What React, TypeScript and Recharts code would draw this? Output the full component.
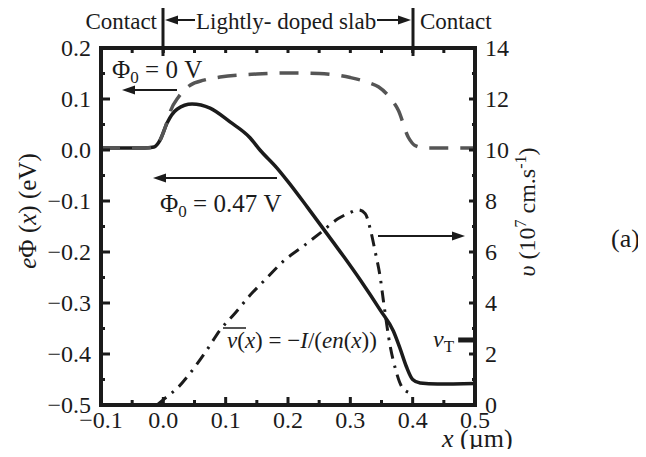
import { ComposedChart, Line, XAxis, YAxis, ReferenceLine } from "recharts";

const FONT = '"Liberation Serif", "Times New Roman", serif';
const INK = "#1b1b1b";

// e·Φ(x) in eV for Φ0 = 0.47 V (solid)
const biasX = [-0.1, -0.03, -0.015, -0.005, 0.006, 0.022, 0.046, 0.075, 0.107, 0.139, 0.155, 0.182, 0.2, 0.231, 0.26, 0.29, 0.316, 0.348, 0.369, 0.38, 0.39, 0.4, 0.412, 0.44, 0.5];
const biasPhi = [0.004, 0.004, 0.006, 0.02, 0.053, 0.08, 0.09, 0.082, 0.055, 0.024, 0.0, -0.035, -0.062, -0.112, -0.16, -0.21, -0.255, -0.314, -0.355, -0.39, -0.425, -0.45, -0.457, -0.459, -0.458];

// e·Φ(x) in eV for Φ0 = 0 V (grey dashes)
const eqX = [-0.1, -0.03, -0.015, -0.005, 0.006, 0.011, 0.025, 0.043, 0.065, 0.091, 0.15, 0.2, 0.25, 0.3, 0.33, 0.345, 0.362, 0.377, 0.393, 0.405, 0.42, 0.5];
const eqPhi = [0.004, 0.004, 0.006, 0.02, 0.055, 0.075, 0.105, 0.127, 0.137, 0.143, 0.149, 0.151, 0.15, 0.142, 0.132, 0.124, 0.105, 0.078, 0.025, 0.008, 0.004, 0.004];

// drift velocity v(x) = -I/(e n(x)), 10^7 cm/s (dash-dot)
const velX = [-0.01, 0.003, 0.024, 0.043, 0.07, 0.091, 0.115, 0.139, 0.166, 0.195, 0.223, 0.252, 0.28, 0.3, 0.313, 0.324, 0.332, 0.34, 0.348, 0.353, 0.364, 0.372, 0.383, 0.396];
const velV = [0.0, 0.27, 0.7, 1.25, 2.16, 2.94, 3.6, 4.3, 4.98, 5.69, 6.2, 6.75, 7.3, 7.55, 7.65, 7.5, 6.9, 6.0, 5.0, 4.1, 2.3, 1.45, 0.7, 0.47];

// thermal velocity marker on the right axis
const vT = 2.55;

const xTicks = [-0.1, -0.05, 0, 0.05, 0.1, 0.15, 0.2, 0.25, 0.3, 0.35, 0.4, 0.45, 0.5];
const phiTicks = [-0.5, -0.45, -0.4, -0.35, -0.3, -0.25, -0.2, -0.15, -0.1, -0.05, 0, 0.05, 0.1, 0.15, 0.2];
const velTicks = [0, 1, 2, 3, 4, 5, 6, 7, 8, 9, 10, 11, 12, 13, 14];

const rows = (xs: number[], ys: number[]) => xs.map((x, i) => ({ x, y: ys[i] }));

const isTenth = (v: number) => Math.abs(Math.round(v * 100)) % 10 === 0;
const fmt = (v: number) => (v < -1e-9 ? "\u2212" : "") + Math.abs(v).toFixed(1);

function BottomTick(p: any) {
  const v = p.payload.value;
  const major = isTenth(v);
  return (
    <g>
      <line x1={p.x} x2={p.x} y1={p.y} y2={p.y - (major ? 8 : 5)} stroke={INK} strokeWidth={3} />
      {major && (
        <text x={p.x} y={p.y + 23} textAnchor="middle" fontSize={24} fontFamily={FONT} fill={INK}>
          {fmt(v)}
        </text>
      )}
    </g>
  );
}

function TopTick(p: any) {
  return <line x1={p.x} x2={p.x} y1={p.y} y2={p.y + 5} stroke={INK} strokeWidth={3} />;
}

function LeftTick(p: any) {
  const v = p.payload.value;
  const major = isTenth(v);
  return (
    <g>
      <line x1={p.x} x2={p.x + (major ? 9 : 4)} y1={p.y} y2={p.y} stroke={INK} strokeWidth={3} />
      {major && (
        <text x={p.x - 10} y={p.y + 8} textAnchor="end" fontSize={24} fontFamily={FONT} fill={INK}>
          {fmt(v)}
        </text>
      )}
    </g>
  );
}

function RightTick(p: any) {
  const v = p.payload.value;
  const major = v % 2 === 0;
  return (
    <g>
      <line x1={p.x} x2={p.x - (major ? 6 : 3)} y1={p.y} y2={p.y} stroke={INK} strokeWidth={3} />
      {major && (
        <text x={p.x + 10} y={p.y + 8} textAnchor="start" fontSize={24} fontFamily={FONT} fill={INK}>
          {v}
        </text>
      )}
    </g>
  );
}

function Arrow({ from, to, y }: { from: number; to: number; y: number }) {
  const dir = to > from ? 1 : -1;
  const head = 13;
  return (
    <g>
      <line x1={from} x2={to - dir * head} y1={y} y2={y} stroke={INK} strokeWidth={2} />
      <polygon points={`${to},${y} ${to - dir * head},${y - 4.5} ${to - dir * head},${y + 4.5}`} fill={INK} />
    </g>
  );
}

function Notes() {
  return (
    <svg
      width={646}
      height={457}
      style={{ position: "absolute", left: 0, top: 0, pointerEvents: "none" }}
      fontFamily={FONT}
      fill={INK}
    >
      {/* region header */}
      <text x={157} y={29} fontSize={23} textAnchor="end">Contact</text>
      <line x1={163} x2={163} y1={3} y2={56} stroke={INK} strokeWidth={3} />
      <Arrow from={195} to={165} y={20} />
      <text x={196} y={29} fontSize={23}>Lightly- doped slab</text>
      <Arrow from={377} to={411} y={20} />
      <line x1={413} x2={413} y1={3} y2={56} stroke={INK} strokeWidth={3} />
      <text x={420} y={29} fontSize={23}>Contact</text>

      {/* curve labels */}
      <text x={112} y={78} fontSize={25}>
        Φ<tspan fontSize={17} dy={5}>0</tspan>
        <tspan dy={-5}> = 0 V</tspan>
      </text>
      <Arrow from={177} to={122} y={90} />
      <text x={160} y={212} fontSize={25}>
        Φ<tspan fontSize={17} dy={5}>0</tspan>
        <tspan dy={-5}> = 0.47 V</tspan>
      </text>
      <Arrow from={277} to={153} y={178} />
      <Arrow from={378} to={465} y={236} />

      <line x1={223} x2={246} y1={328} y2={328} stroke={INK} strokeWidth={1.5} />
      <text x={227} y={348} fontSize={23}>
        <tspan fontStyle="italic">v</tspan>(<tspan fontStyle="italic">x</tspan>) = −
        <tspan fontStyle="italic">I</tspan>/(<tspan fontStyle="italic">en</tspan>(
        <tspan fontStyle="italic">x</tspan>))
      </text>
      <text x={433} y={347} fontSize={24}>
        <tspan fontStyle="italic">v</tspan>
        <tspan fontSize={17} dy={5}>T</tspan>
      </text>

      <text x={611} y={247} fontSize={26}>(a)</text>

      {/* axis titles */}
      <text x={36} y={211} fontSize={25} textAnchor="middle" transform="rotate(-90 36 211)">
        <tspan fontStyle="italic">e</tspan>Φ (<tspan fontStyle="italic">x</tspan>) (eV)
      </text>
      <text x={535} y={212} fontSize={24} textAnchor="middle" transform="rotate(-90 535 212)">
        <tspan fontStyle="italic">υ</tspan> (10<tspan fontSize={16} dy={-9}>7</tspan>
        <tspan dy={9}> cm.s</tspan>
        <tspan fontSize={16} dy={-9}>-1</tspan>
        <tspan dy={9}>)</tspan>
      </text>
      <text x={442} y={447} fontSize={26}>
        <tspan fontStyle="italic">x</tspan> (µm)
      </text>
    </svg>
  );
}

export default function App() {
  const axisLine = { stroke: INK, strokeWidth: 4, strokeLinecap: "square" as const };
  return (
    <div style={{ position: "relative", width: 646, height: 457, margin: -8, background: "#fff" }}>
      <ComposedChart width={646} height={457} margin={{ top: 40, right: 101, bottom: 22, left: 31 }}>
        <XAxis
          xAxisId="b"
          type="number"
          dataKey="x"
          domain={[-0.1, 0.5]}
          ticks={xTicks}
          interval={0}
          allowDataOverflow
          height={30}
          axisLine={axisLine}
          tickLine={false}
          tickSize={0}
          tickMargin={0}
          tick={(p: any) => <BottomTick {...p} />}
        />
        <XAxis
          xAxisId="t"
          orientation="top"
          type="number"
          dataKey="x"
          domain={[-0.1, 0.5]}
          ticks={xTicks}
          interval={0}
          allowDataOverflow
          height={8}
          axisLine={axisLine}
          tickLine={false}
          tickSize={0}
          tickMargin={0}
          tick={(p: any) => <TopTick {...p} />}
        />
        <YAxis
          yAxisId="phi"
          type="number"
          domain={[-0.5, 0.2]}
          ticks={phiTicks}
          interval={0}
          allowDataOverflow
          width={70}
          axisLine={axisLine}
          tickLine={false}
          tickSize={0}
          tickMargin={0}
          tick={(p: any) => <LeftTick {...p} />}
        />
        <YAxis
          yAxisId="v"
          orientation="right"
          type="number"
          domain={[0, 14]}
          ticks={velTicks}
          interval={0}
          allowDataOverflow
          width={70}
          axisLine={axisLine}
          tickLine={false}
          tickSize={0}
          tickMargin={0}
          tick={(p: any) => <RightTick {...p} />}
        />
        <Line
          xAxisId="b"
          yAxisId="phi"
          data={rows(biasX, biasPhi)}
          dataKey="y"
          type="monotone"
          stroke={INK}
          strokeWidth={3.5}
          dot={false}
          isAnimationActive={false}
        />
        <Line
          xAxisId="b"
          yAxisId="phi"
          data={rows(eqX, eqPhi)}
          dataKey="y"
          type="monotone"
          stroke="#555"
          strokeWidth={3.5}
          strokeDasharray="19 12"
          dot={false}
          isAnimationActive={false}
        />
        <Line
          xAxisId="b"
          yAxisId="v"
          data={rows(velX, velV)}
          dataKey="y"
          type="monotone"
          stroke={INK}
          strokeWidth={3}
          strokeDasharray="12 7 2.5 7"
          dot={false}
          isAnimationActive={false}
        />
        <ReferenceLine
          xAxisId="b"
          yAxisId="v"
          segment={[{ x: 0.473, y: vT }, { x: 0.5, y: vT }]}
          stroke={INK}
          strokeWidth={5}
          ifOverflow="visible"
        />
      </ComposedChart>
      <Notes />
    </div>
  );
}
